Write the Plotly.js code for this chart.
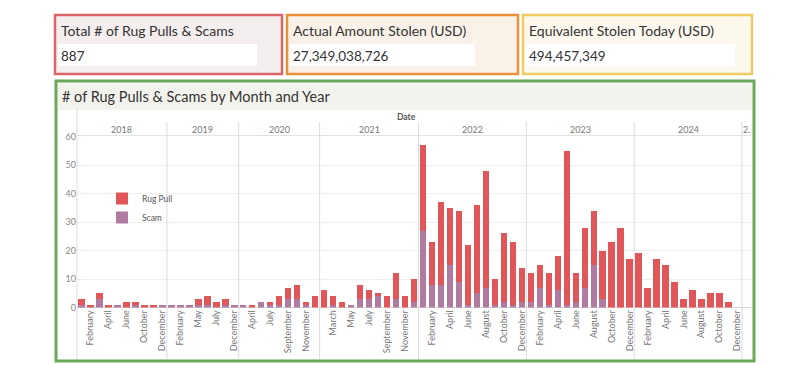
<!DOCTYPE html>
<html>
<head>
<meta charset="utf-8">
<script src="https://cdn.plot.ly/plotly-3.0.1.min.js"></script>
<style>
  html, body { margin: 0; padding: 0; background: #ffffff; }
  #chart { width: 800px; height: 365px; }
</style>
</head>
<body>
<div id="chart"></div>
<script>
// ---------- DATA ----------
const periods = [
  "2018-01","2018-02","2018-03","2018-04","2018-05","2018-06","2018-08","2018-10","2018-11","2018-12",
  "2019-01","2019-02","2019-04","2019-05","2019-06","2019-07","2019-10","2019-12",
  "2020-03","2020-04","2020-06","2020-07","2020-08","2020-09","2020-10","2020-11","2020-12",
  "2021-01","2021-03","2021-04","2021-05","2021-06","2021-07","2021-08","2021-09","2021-10","2021-11","2021-12",
  "2022-01","2022-02","2022-03","2022-04","2022-05","2022-06","2022-07","2022-08","2022-09","2022-10","2022-11","2022-12",
  "2023-01","2023-02","2023-03","2023-04","2023-05","2023-06","2023-07","2023-08","2023-09","2023-10","2023-11","2023-12",
  "2024-01","2024-02","2024-03","2024-04","2024-05","2024-06","2024-07","2024-08","2024-09","2024-10","2024-11","2024-12",
  "2025-01"
];
const rugPull = [
  2,1,2,1,0,2,1,1,1,0,
  0,0,0,2,3,2,2,0,
  0,1,0,1,3,4,5,1,4,
  6,3,2,0,5,3,1,4,9,4,8,
  30,15,29,20,25,21,31,41,9,24,22,12,
  10,8,11,12,54,10,21,19,17,23,28,17,
  19,7,17,15,9,3,6,3,5,5,2,0,
  0
];
const scam = [
  1,0,3,0,1,0,1,0,0,1,
  1,1,1,1,1,0,1,1,
  1,0,2,1,1,3,3,1,0,
  0,1,0,1,3,3,4,0,3,0,2,
  27,8,8,15,9,1,5,7,1,2,1,2,
  2,7,1,6,1,2,7,15,3,0,0,0,
  0,0,0,0,0,0,0,0,0,0,0,0,
  0
];
const monthNames = ["January","February","March","April","May","June","July",
                    "August","September","October","November","December"];
const yTicks = [0,10,20,30,40,50,60];
const kpiTitles = ["Total # of Rug Pulls & Scams","Actual Amount Stolen (USD)","Equivalent Stolen Today (USD)"];
const kpiValues = ["887","27,349,038,726","494,457,349"];
const chartTitle = "# of Rug Pulls & Scams by Month and Year";

// ---------- DERIVED ----------
const W = 800, H = 365;
const px = v => v / W;
const py = v => 1 - v / H;
const FONT = "Lato, 'Open Sans', 'DejaVu Sans', sans-serif";

const idx = periods.map((p, i) => i);
const yearOf = periods.map(p => p.slice(0, 4));
const monthOf = periods.map(p => parseInt(p.slice(5, 7), 10));

// year groups
const years = [];
yearOf.forEach((y, i) => {
  if (!years.length || years[years.length - 1].year !== y) years.push({year: y, start: i, end: i});
  else years[years.length - 1].end = i;
});

// month labels: every other slot within each year (even positions)
const tickvals = [], ticktext = [];
years.forEach(g => {
  for (let i = g.start; i <= g.end; i++) {
    if ((i - g.start) % 2 === 1) { tickvals.push(i); ticktext.push(monthNames[monthOf[i] - 1]); }
  }
});

const RED = "#e15759", PURPLE = "#b07aa1";

const traces = [
  {type: "bar", name: "Scam", x: idx, y: scam, marker: {color: PURPLE}, hoverinfo: "skip"},
  {type: "bar", name: "Rug Pull", x: idx, y: rugPull, marker: {color: RED}, hoverinfo: "skip"}
];

// ---------- LAYOUT ----------
const shapes = [];
const annotations = [];

// KPI boxes
const kpiBoxes = [
  {x0: 55, x1: 282, line: "#d9646a", fill: "#f4eeee", vx1: 257},
  {x0: 287, x1: 518, line: "#e8913c", fill: "#faf2e8", vx1: 475},
  {x0: 523, x1: 752, line: "#efcb62", fill: "#fcf8ee", vx1: 735}
];
kpiBoxes.forEach((b, k) => {
  shapes.push({type: "rect", xref: "paper", yref: "paper", x0: px(b.x0), x1: px(b.x1), y0: py(74), y1: py(15),
               line: {color: b.line, width: 2.5}, fillcolor: b.fill, layer: "below"});
  shapes.push({type: "rect", xref: "paper", yref: "paper", x0: px(b.x0 + 3), x1: px(b.vx1), y0: py(66), y1: py(44),
               line: {width: 0}, fillcolor: "#ffffff", layer: "below"});
  annotations.push({xref: "paper", yref: "paper", x: px(b.x0 + 4), y: py(31), xanchor: "left", yanchor: "middle",
                    text: kpiTitles[k], showarrow: false, font: {family: FONT, size: 14, color: "#333"}});
  annotations.push({xref: "paper", yref: "paper", x: px(b.x0 + 4), y: py(56), xanchor: "left", yanchor: "middle",
                    text: kpiValues[k], showarrow: false, font: {family: FONT, size: 13.5, color: "#333"}});
});

// Chart container
shapes.push({type: "rect", xref: "paper", yref: "paper", x0: px(56), x1: px(754), y0: py(361), y1: py(81),
             line: {color: "#6aa85a", width: 3}, fillcolor: "rgba(0,0,0,0)", layer: "below"});
shapes.push({type: "rect", xref: "paper", yref: "paper", x0: px(58), x1: px(752), y0: py(110), y1: py(83),
             line: {width: 0}, fillcolor: "#f3f3ed", layer: "below"});
annotations.push({xref: "paper", yref: "paper", x: px(60), y: py(96), xanchor: "left", yanchor: "middle",
                  text: chartTitle, showarrow: false, font: {family: FONT, size: 14.5, color: "#333"}});

// header line under year row and left pane divider
shapes.push({type: "line", xref: "paper", yref: "paper", x0: px(77), x1: px(751), y0: py(135.5), y1: py(135.5),
             line: {color: "#e2e2e2", width: 1}});
shapes.push({type: "line", xref: "paper", yref: "paper", x0: px(77), x1: px(77), y0: py(359), y1: py(110),
             line: {color: "#dedede", width: 1}});

// Year dividers & labels (data coordinates)
years.forEach((g, k) => {
  if (k > 0) {
    shapes.push({type: "line", xref: "x", yref: "paper", x0: g.start - 0.5, x1: g.start - 0.5,
                 y0: py(359), y1: py(122), line: {color: "#dcdcdc", width: 1}});
  }
  const n = g.end - g.start + 1;
  annotations.push({xref: "x", yref: "paper", x: (g.start + g.end) / 2, y: py(129), xanchor: "center", yanchor: "middle",
                    text: n < 2 ? g.year.slice(0, 1) + "." : g.year, showarrow: false,
                    font: {family: FONT, size: 9, color: "#777"}});
});
// "Date" header: at boundary between 2021 and 2022
const g2022 = years.find(g => g.year === "2022");
annotations.push({xref: "x", yref: "paper", x: g2022.start - 0.5, y: py(117), xanchor: "right", yanchor: "middle",
                  text: "<b>Date</b>", showarrow: false, font: {family: FONT, size: 8.5, color: "#555"}});

const layout = {
  width: W, height: H,
  margin: {l: 0, r: 0, t: 0, b: 0},
  paper_bgcolor: "#ffffff",
  plot_bgcolor: "rgba(0,0,0,0)",
  barmode: "stack",
  bargap: 0.28,
  font: {family: FONT},
  showlegend: true,
  legend: {x: px(102), y: py(184), xanchor: "left", yanchor: "top", traceorder: "reversed",
           bgcolor: "rgba(0,0,0,0)", font: {family: FONT, size: 8.5, color: "#555"},
           itemwidth: 30, tracegroupgap: 0},
  xaxis: {
    domain: [px(77), px(751)],
    range: [-0.5, periods.length - 0.5],
    tickmode: "array", tickvals: tickvals, ticktext: ticktext,
    tickangle: -90, tickfont: {family: FONT, size: 9, color: "#777"},
    showgrid: false, zeroline: false, showline: false, ticks: "", fixedrange: true
  },
  yaxis: {
    domain: [py(307.5), py(136.5)],
    range: [0, 60],
    tickmode: "array", tickvals: yTicks,
    tickfont: {family: FONT, size: 9, color: "#888"},
    showgrid: true, gridcolor: "#efefef", gridwidth: 1,
    zeroline: true, zerolinecolor: "#d6d6d6", zerolinewidth: 1,
    showline: false, ticks: "", fixedrange: true
  },
  shapes: shapes,
  annotations: annotations
};

Plotly.newPlot("chart", traces, layout, {staticPlot: true, displayModeBar: false});
</script>
</body>
</html>
